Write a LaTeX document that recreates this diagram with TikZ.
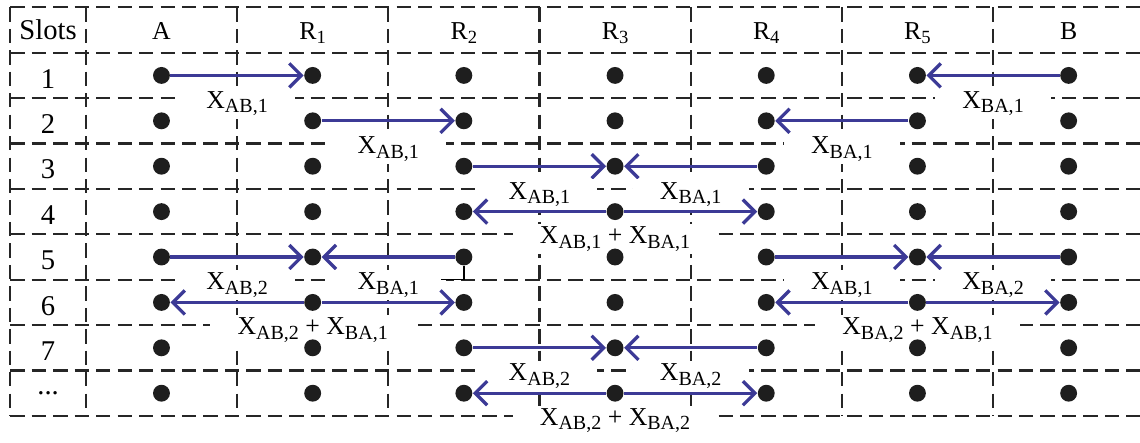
\documentclass[tikz,border=0pt]{standalone}
\usepackage{fontspec}
\setmainfont{Liberation Serif}
\usepackage{tikz}
\usetikzlibrary{positioning, arrows.meta}
\definecolor{flowblue}{RGB}{60,58,150}
\definecolor{dotblack}{RGB}{30,30,30}
\newcommand{\sflow}[1]{X\raisebox{-1.6pt}{\fontsize{7}{8}\selectfont #1}}
\newcommand{\relay}[1]{R\raisebox{-1.4pt}{\fontsize{6.5}{8}\selectfont #1}}
\pgfdeclarelayer{front}
\pgfsetlayers{main,front}

\begin{document}
\begin{tikzpicture}[x=1.857cm, y=-0.5576cm,
  grid/.style={dash pattern=on 5pt off 2.5pt, line width=0.75pt, color=black!85},
  slot/.style={circle, fill=dotblack, minimum size=5.9pt, inner sep=0pt},
  head/.style={anchor=base, font=\fontsize{9}{10}\selectfont},
  num/.style={anchor=base, font=\fontsize{10}{12}\selectfont},
  lbl/.style={fill=white, text=black, inner xsep=9.5pt, inner ysep=1pt, font=\fontsize{9}{10}\selectfont},
  arr/.style={-{Straight Barb[length=4.2pt, width=8.4pt]}, line width=1.15pt, color=flowblue}]
  \useasboundingbox (-0.068,-0.661) rectangle (7.472,9.075);
  % dashed table
  \foreach \r in {0,...,9}
    \draw[grid] (0,\r-0.5) -- (7.472,\r-0.5);
  \foreach \c in {0,0.5,1.5,2.5,3.5,4.5,5.5,6.5}
    \draw[grid] (\c,-0.5) -- (\c,8.5);
  % header and slot numbers
  \node[num] (slots) at (0.25,0.2) {Slots};
  \node[head] (hA) at (1,0.2) {A};
  \foreach \c in {1,...,5}
    \node[head] (hR\c) at (\c+1,0.2) {\relay{\c}};
  \node[head] (hB) at (7,0.2) {B};
  \foreach \r in {1,...,7}
    \node[num] (n\r) at (0.25,\r+0.28) {\r};
  \node[font=\fontsize{10}{12}\selectfont] (n8) at (0.25,8) {...};
  % nodes per slot
  \begin{pgfonlayer}{front}
  \foreach \c in {1,...,7}
    \foreach \r in {1,...,8}
      \node[slot] (d\c-\r) at (\c,\r) {};
  \end{pgfonlayer}
  % slot 1
  \draw[arr] (d1-1) -- node[lbl, below=4pt] {\sflow{AB,1}} (d2-1);
  \draw[arr] (d7-1) -- node[lbl, below=4pt] {\sflow{BA,1}} (d6-1);
  % slot 2
  \draw[arr] (d2-2) -- node[lbl, below=4pt] {\sflow{AB,1}} (d3-2);
  \draw[arr] (d6-2) -- node[lbl, below=4pt] {\sflow{BA,1}} (d5-2);
  % slot 3
  \draw[arr] (d3-3) -- node[lbl, below=4pt] {\sflow{AB,1}} (d4-3);
  \draw[arr] (d5-3) -- node[lbl, below=4pt] {\sflow{BA,1}} (d4-3);
  % slot 4
  \draw[arr] (d4-4) -- (d3-4);
  \draw[arr] (d4-4) -- (d5-4);
  \node[lbl, below=1pt of d4-4] (sum4) {\sflow{AB,1} + \sflow{BA,1}};
  % slot 5
  \draw[arr] (d1-5) -- node[lbl, below=4pt] {\sflow{AB,2}} (d2-5);
  \draw[arr] (d3-5) -- node[lbl, below=4pt] {\sflow{BA,1}} (d2-5);
  \draw[line width=0.5pt] (d3-5) |- ++(-0.152,0.5);
  \draw[arr] (d5-5) -- node[lbl, below=4pt] {\sflow{AB,1}} (d6-5);
  \draw[arr] (d7-5) -- node[lbl, below=4pt] {\sflow{BA,2}} (d6-5);
  % slot 6
  \draw[arr] (d2-6) -- (d1-6);
  \draw[arr] (d2-6) -- (d3-6);
  \node[lbl, below=1pt of d2-6] (sum6a) {\sflow{AB,2} + \sflow{BA,1}};
  \draw[arr] (d6-6) -- (d5-6);
  \draw[arr] (d6-6) -- (d7-6);
  \node[lbl, below=1pt of d6-6] (sum6b) {\sflow{BA,2} + \sflow{AB,1}};
  % slot 7
  \draw[arr] (d3-7) -- node[lbl, below=4pt] {\sflow{AB,2}} (d4-7);
  \draw[arr] (d5-7) -- node[lbl, below=4pt] {\sflow{BA,2}} (d4-7);
  % next slots
  \draw[arr] (d4-8) -- (d3-8);
  \draw[arr] (d4-8) -- (d5-8);
  \node[lbl, below=1pt of d4-8] (sum8) {\sflow{AB,2} + \sflow{BA,2}};
\end{tikzpicture}
\end{document}
